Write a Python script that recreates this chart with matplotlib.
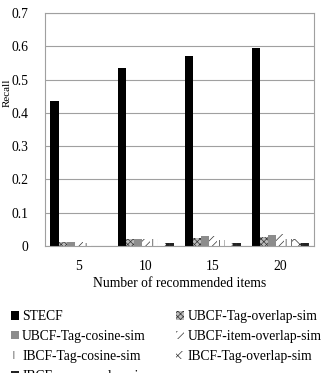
import matplotlib
matplotlib.use("Agg")
import matplotlib.pyplot as plt
import numpy as np

plt.rcParams['font.family'] = ['Liberation Serif', 'DejaVu Serif']
plt.rcParams['hatch.linewidth'] = 0.5

# Data
categories = ['5', '10', '15', '20']
series_names = ['STECF', 'UBCF-Tag-overlap-sim', 'UBCF-Tag-cosine-sim',
                'UBCF-item-overlap-sim', 'IBCF-Tag-cosine-sim',
                'IBCF-Tag-overlap-sim', 'IBCF-user-overlap-sim']
stecf = [0.435, 0.535, 0.570, 0.595]
ubcf_tag_overlap = [0.013, 0.020, 0.025, 0.028]
ubcf_tag_cosine = [0.012, 0.020, 0.030, 0.033]
ubcf_item_overlap = [0.012, 0.022, 0.030, 0.035]
ibcf_tag_cosine = [0.008, 0.020, 0.018, 0.022]
ibcf_tag_overlap = [0.0, 0.010, 0.010, 0.020]
ibcf_user_overlap = [0.0, 0.008, 0.008, 0.010]
all_values = [stecf, ubcf_tag_overlap, ubcf_tag_cosine, ubcf_item_overlap,
              ibcf_tag_cosine, ibcf_tag_overlap, ibcf_user_overlap]

# styles: (facecolor, hatch)
styles = [('black', None), ('#bbbbbb', 'xxxxxx'), ('#8c8c8c', None),
          ('white', '////'), ('white', '|||'), ('white', 'xxx'), ('#222222', '+++')]

fig = plt.figure(figsize=(3.22, 3.73), dpi=100)
ax = fig.add_axes([0.14, 0.3405, 0.835, 0.6245])

x = np.arange(len(categories))
w = 0.12
handles = []
for i, (vals, (fc, hatch)) in enumerate(zip(all_values, styles)):
    offs = (i - 3) * w
    b = ax.bar(x + offs, vals, w, color=fc, hatch=hatch, edgecolor='#333333',
               linewidth=0, label=series_names[i])
    handles.append(b)

ax.set_xlim(-0.5, 3.5)
ax.set_ylim(0, 0.7)
ax.set_yticks(np.arange(0, 0.71, 0.1))
ax.set_yticklabels(['0', '0.1', '0.2', '0.3', '0.4', '0.5', '0.6', '0.7'])
ax.set_xticks(x)
ax.set_xticklabels(categories)
ax.tick_params(length=0, labelsize=9.8, pad=12)
ax.tick_params(axis='x', pad=10)
ax.yaxis.grid(True, color='#a0a0a0', linewidth=0.8)
ax.set_axisbelow(True)
for s in ax.spines.values():
    s.set_color('#a0a0a0')
    s.set_linewidth(0.8)
ax.set_xlabel('Number of recommended items', fontsize=9.8, labelpad=3)
ax.set_ylabel('Recall', fontsize=8)
ax.yaxis.set_label_coords(-0.125, 0.66)

order = [0, 2, 4, 6, 1, 3, 5]
fig.legend([handles[k] for k in order], [series_names[k] for k in order],
           loc='upper left', bbox_to_anchor=(0.035, 0.168), ncol=2,
           frameon=False, fontsize=9.8, handlelength=0.55, handleheight=0.55,
           handletextpad=0.25, columnspacing=2.0, labelspacing=0.5,
           borderaxespad=0, borderpad=0)

fig.savefig('out.png', dpi=100)
